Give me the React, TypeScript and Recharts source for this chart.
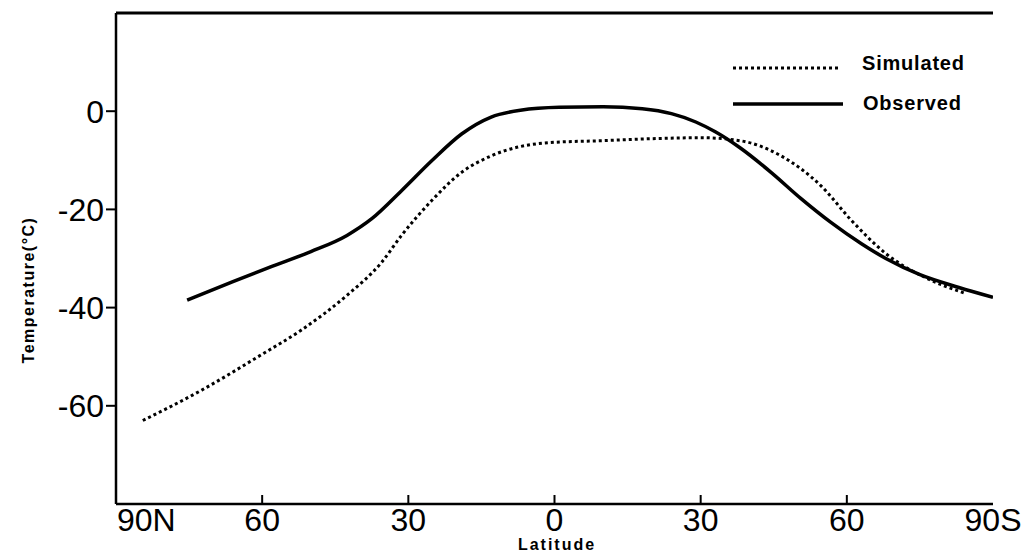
import React from "react";
import { LineChart, Line, XAxis, YAxis, ReferenceLine, Legend } from "recharts";

// latitude position: -90 = 90N, 90 = 90S
const simLat = [-84.5, -72.4, -60, -52, -42.6, -35.5, -31.4, -25.2, -19, -13, -1, 10, 20, 30, 38, 46.5, 54.7, 61, 68, 77, 84];
const simTemp = [-63, -56.8, -49.5, -44.6, -37.5, -30.8, -25.3, -18.2, -12.4, -9.1, -6.4, -6, -5.6, -5.4, -6, -9.1, -15.2, -22.3, -29, -34.3, -37];

const obsLat = [-75.4, -66, -58, -50, -42.6, -37.5, -31.4, -25.2, -19, -13, -7, 1, 10, 18, 24, 29, 33, 38, 44.5, 50.6, 56.8, 63, 68, 75, 83, 90];
const obsTemp = [-38.5, -34.7, -31.6, -28.6, -25.3, -21.9, -16.2, -10.1, -4.6, -1.2, 0.2, 0.8, 0.9, 0.5, -0.5, -2.2, -4.2, -7.4, -12.5, -17.8, -22.7, -27, -30, -33.3, -35.9, -37.9];

const latTicks = [-90, -60, -30, 0, 30, 60, 90];
const tempTicks = [0, -20, -40, -60];

const simulated = simLat.map((lat, i) => ({ lat, temp: simTemp[i] }));
const observed = obsLat.map((lat, i) => ({ lat, temp: obsTemp[i] }));

const FONT = "'Liberation Sans', Arial, Helvetica, sans-serif";

const latLabel = (v: number) => (v === -90 ? "90N" : v === 90 ? "90S" : String(Math.abs(v)));

function XTick(props: any) {
  const { x, y, payload, index } = props;
  const first = index === 0;
  return (
    <g>
      {!first && payload.value !== 90 && (
        <line x1={x} y1={y} x2={x} y2={y - 9} stroke="#000" strokeWidth={2} />
      )}
      <text x={first ? x + 1 : x} y={y + 27} textAnchor={first ? "start" : "middle"} fontSize={32} fontFamily={FONT} fill="#000">
        {latLabel(payload.value)}
      </text>
    </g>
  );
}

function YTitle() {
  return (
    <text x={28} y={290} transform="rotate(-90 28 290)" textAnchor="middle" dominantBaseline="central" fontSize={16} fontWeight="bold" letterSpacing={1.5} fontFamily={FONT} fill="#000">
      Temperature(°C)
    </text>
  );
}

function XTitle() {
  return (
    <text x={557} y={550} textAnchor="middle" fontSize={16} fontWeight="bold" letterSpacing={2} fontFamily={FONT} fill="#000">
      Latitude
    </text>
  );
}

function LegendBox() {
  return (
    <svg width={270} height={80} style={{ display: "block" }}>
      <line x1={5} y1={20} x2={112} y2={20} stroke="#000" strokeWidth={3} strokeDasharray="3 3" />
      <text x={134} y={22} fontSize={20} fontWeight="bold" letterSpacing={0.8} fontFamily={FONT} fill="#000">Simulated</text>
      <line x1={5} y1={56} x2={115} y2={56} stroke="#000" strokeWidth={3.5} />
      <text x={135} y={62} fontSize={20} fontWeight="bold" letterSpacing={0.8} fontFamily={FONT} fill="#000">Observed</text>
    </svg>
  );
}

export default function App() {
  return (
    <div style={{ position: "absolute", left: 0, top: 0, width: 1031, height: 560, background: "#fff" }}>
      <LineChart width={1031} height={560} margin={{ top: 13, right: 38, bottom: 16, left: 56 }}>
        <XAxis
          dataKey="lat"
          type="number"
          domain={[-90, 90]}
          ticks={latTicks}
          allowDataOverflow
          interval={0}
          tick={<XTick />}
          tickLine={false}
          tickSize={0}
          tickMargin={0}
          height={40}
          axisLine={{ stroke: "#000", strokeWidth: 2.5 }}
          label={<XTitle />}
        />
        <YAxis
          dataKey="temp"
          type="number"
          domain={[-80, 20]}
          ticks={tempTicks}
          allowDataOverflow
          interval={0}
          width={60}
          tickSize={10}
          tickMargin={2}
          tick={{ fill: "#000", fontSize: 32, fontFamily: FONT }}
          tickLine={{ stroke: "#000", strokeWidth: 2 }}
          axisLine={{ stroke: "#000", strokeWidth: 2.5 }}
          label={<YTitle />}
        />
        <YAxis
          yAxisId="right"
          orientation="right"
          type="number"
          domain={[-80, 20]}
          ticks={tempTicks}
          allowDataOverflow
          width={0}
          mirror
          tickSize={6}
          tick={() => <g />}
          tickLine={{ stroke: "#000", strokeWidth: 2 }}
          axisLine={{ stroke: "#000", strokeWidth: 3 }}
        />
        <ReferenceLine y={20} stroke="#000" strokeWidth={3} />
        <Legend
          layout="horizontal"
          verticalAlign="middle"
          align="center"
          content={<LegendBox />}
          wrapperStyle={{ position: "absolute", left: 728, top: 48, width: 270, height: 80 }}
        />
        <Line
          data={simulated}
          dataKey="temp"
          type="monotone"
          stroke="#000"
          strokeWidth={3}
          strokeDasharray="3 3"
          dot={false}
          isAnimationActive={false}
        />
        <Line
          data={observed}
          dataKey="temp"
          type="monotone"
          stroke="#000"
          strokeWidth={3.5}
          dot={false}
          isAnimationActive={false}
        />
      </LineChart>
    </div>
  );
}
